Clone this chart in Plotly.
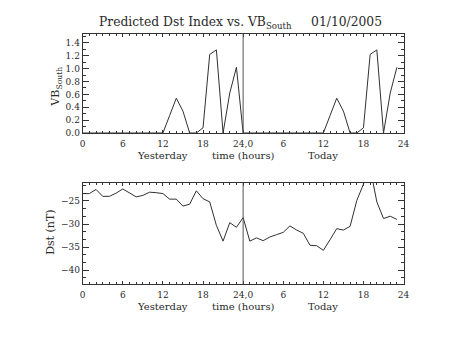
import plotly.graph_objects as go

# ---- data ----
hours = list(range(48))  # 0..23 yesterday, 24..47 today
vb_yesterday = [0, 0, 0, 0, 0, 0, 0, 0, 0, 0, 0, 0, 0, 0.27, 0.54, 0.34, 0, 0, 0.08, 1.22, 1.29, 0, 0.62, 1.02]
vb_today = [0, 0, 0, 0, 0, 0, 0, 0, 0, 0, 0, 0, 0, 0.27, 0.54, 0.34, 0, 0, 0.08, 1.22, 1.29, 0, 0.62, 1.02]
dst_yesterday = [-23.4, -23.4, -22.5, -24.0, -24.0, -23.3, -22.4, -23.3, -24.1, -23.8, -23.1, -23.2,
                 -23.4, -24.6, -24.6, -26.1, -25.7, -22.8, -24.5, -25.2, -30.3, -33.7, -29.7, -30.7]
dst_today = [-28.6, -33.7, -33.0, -33.6, -32.8, -32.3, -31.8, -30.4, -31.3, -32.0, -34.6, -34.7,
             -35.7, -33.4, -31.0, -31.3, -30.5, -24.9, -21.8, -17.8, -25.2, -28.8, -28.3, -29.0]
tick_vals = [0, 6, 12, 18, 24, 30, 36, 42, 48]
tick_text = ["0", "6", "12", "18", "24,0", "6", "12", "18", "24"]
title_text = "Predicted Dst Index vs. VB<sub>South</sub>\u00a0\u00a0\u00a0\u00a0\u00a001/10/2005"

W, H = 453, 340
FONT = "DejaVu Serif"
LINE = "#303030"
TXT = "#2a2a2a"

def px(xp):
    return xp / W

def py(yp):
    return 1 - yp / H

x_dom = [px(81.3), px(408.7)]
top_dom = [py(135.0), py(34.3)]
bot_dom = [py(288.3), py(185.7)]

fig = go.Figure()
fig.add_trace(go.Scatter(x=hours, y=vb_yesterday + vb_today, mode="lines",
                         line=dict(color=LINE, width=1), xaxis="x", yaxis="y", showlegend=False))
fig.add_trace(go.Scatter(x=hours, y=dst_yesterday + dst_today, mode="lines",
                         line=dict(color=LINE, width=1), xaxis="x2", yaxis="y2", showlegend=False))

xcommon = dict(range=[0, 48], tickvals=tick_vals, ticktext=tick_text, ticks="inside", ticklen=3,
               tickcolor="#333", showline=True, linecolor="#333", linewidth=1, mirror="ticks",
               showgrid=False, zeroline=False, domain=x_dom, ticklabelstandoff=2,
               tickfont=dict(family=FONT, size=9, color=TXT),
               minor=dict(dtick=1, tick0=0, ticks="inside", ticklen=2, tickcolor="#333"))
ycommon = dict(ticks="inside", ticklen=6, tickcolor="#333", showline=True, linecolor="#333",
               linewidth=1, mirror="ticks", showgrid=False, zeroline=False,
               tickfont=dict(family=FONT, size=9, color=TXT))

fig.update_layout(
    width=W, height=H, margin=dict(l=0, r=0, t=0, b=0),
    paper_bgcolor="white", plot_bgcolor="white",
    xaxis=dict(anchor="y", **xcommon),
    xaxis2=dict(anchor="y2", **xcommon),
    yaxis=dict(anchor="x", domain=top_dom, range=[0, 1.54], tickvals=[0, 0.2, 0.4, 0.6, 0.8, 1.0, 1.2, 1.4],
               tickformat=".1f", minor=dict(dtick=0.1, tick0=0, ticks="inside", ticklen=3, tickcolor="#333"),
               **ycommon),
    yaxis2=dict(anchor="x2", domain=bot_dom, range=[-43, -21.1], tickvals=[-25, -30, -35, -40],
                minor=dict(dtick=5 / 3, tick0=-25, ticks="inside", ticklen=3, tickcolor="#333"),
                **ycommon),
)

for xref in ["x", "x2"]:
    yref = "y domain" if xref == "x" else "y2 domain"
    fig.add_shape(type="line", xref=xref, yref=yref, x0=24, x1=24, y0=0, y1=1,
                  line=dict(color="#555", width=1))

anns = []
anns.append(dict(text=title_text, x=px(242), y=py(23), xref="paper", yref="paper",
                 showarrow=False, font=dict(family=FONT, size=12.3, color=TXT),
                 xanchor="center", yanchor="middle"))
for base in [157.7, 311.0]:
    for xh, t in [(12, "Yesterday"), (24, "time (hours)"), (36, "Today")]:
        anns.append(dict(text=t, x=px(81.3 + 6.821 * xh), y=py(base), xref="paper", yref="paper",
                         showarrow=False, font=dict(family=FONT, size=10, color=TXT),
                         xanchor="center", yanchor="middle"))
anns.append(dict(text="VB<sub>South</sub>", x=px(54), y=py(88), xref="paper", yref="paper",
                 showarrow=False, textangle=-90, font=dict(family=FONT, size=11, color=TXT),
                 xanchor="center", yanchor="middle"))
anns.append(dict(text="Dst (nT)", x=px(48.3), y=py(236), xref="paper", yref="paper",
                 showarrow=False, textangle=-90, font=dict(family=FONT, size=11, color=TXT),
                 xanchor="center", yanchor="middle"))
fig.update_layout(annotations=anns)

fig.write_html("out.html")
